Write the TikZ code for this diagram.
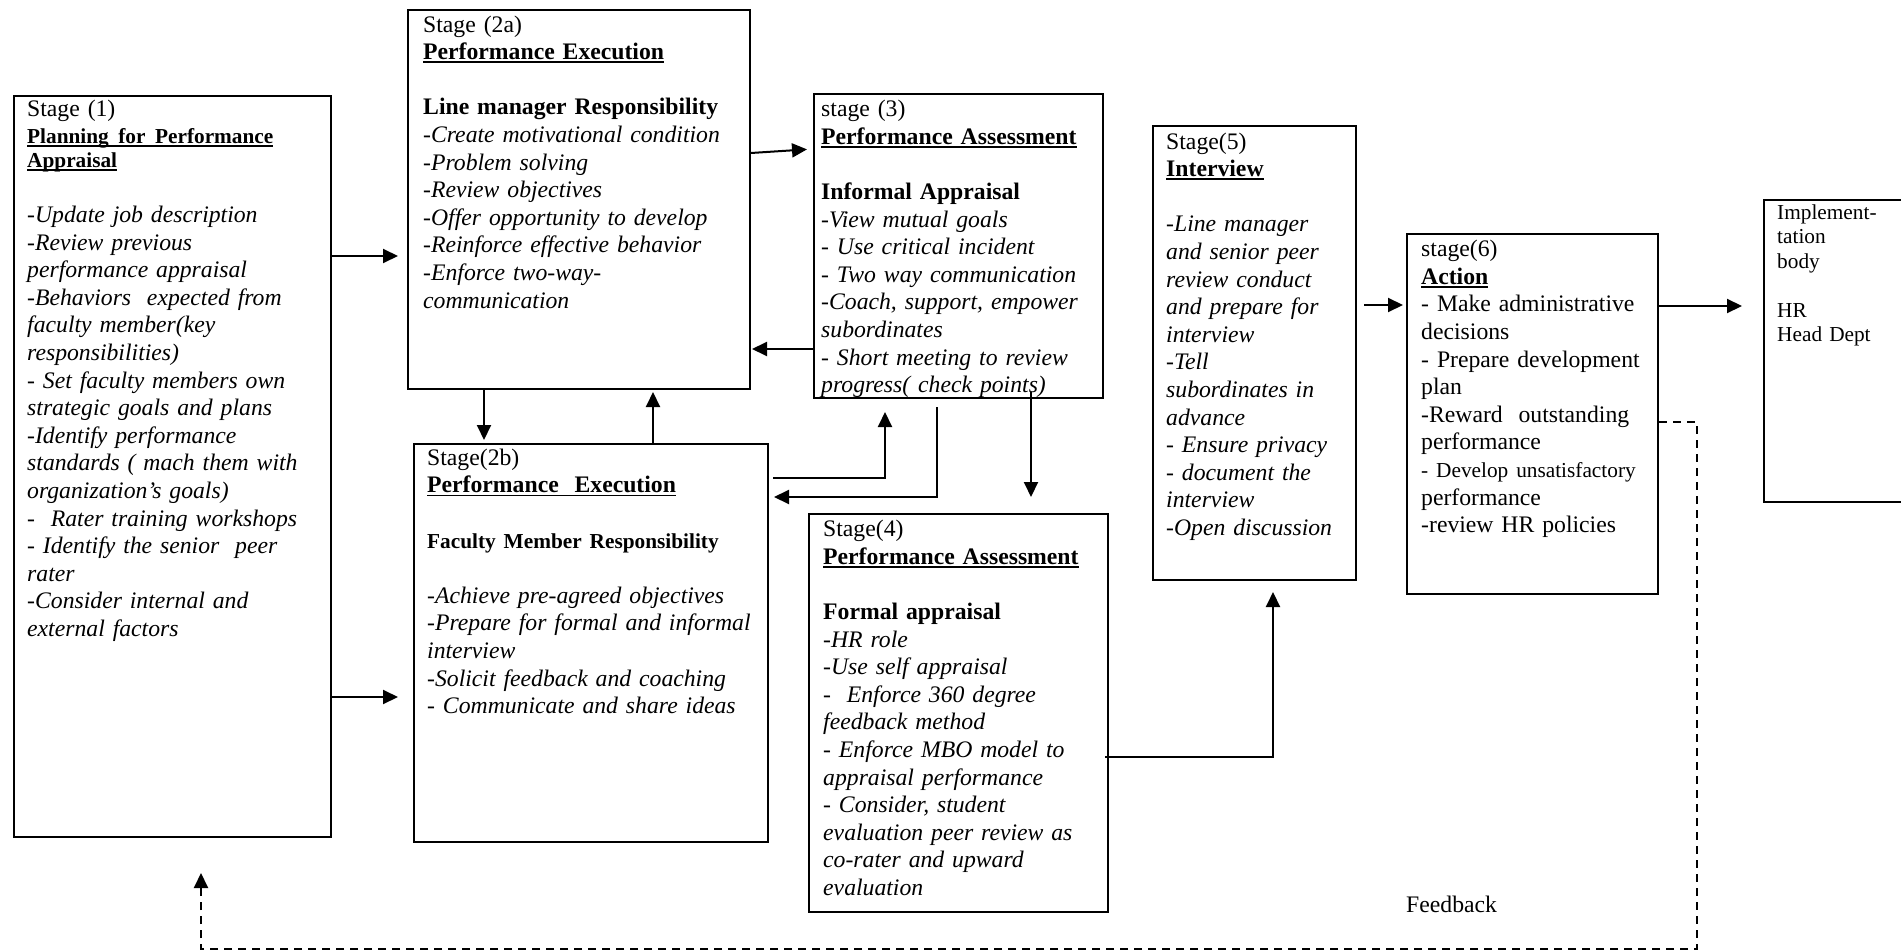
\documentclass[tikz,border=0pt]{standalone}
\usepackage{fontspec}
\setmainfont{Liberation Serif}
\usetikzlibrary{arrows.meta,calc}
\setlength{\parindent}{0pt}
\newcommand{\fb}{\rule{0pt}{20pt}}
\newcommand{\myul}[1]{\leavevmode\setbox0\hbox{#1}\rlap{\rule[-3.5pt]{\wd0}{1.8pt}}\box0}
\newcommand{\smallsz}{\fontsize{21.3}{24.5}\selectfont}
\tikzset{
  box/.style={draw, line width=2pt, anchor=north west, inner sep=0pt},
  txt/.style={anchor=north west, inner sep=0pt, text width=420pt, align=left, font=\fontsize{23.7}{27.6}\selectfont},
  smtxt/.style={txt, font=\smallsz},
  arr/.style={line width=2pt, -{Triangle[length=15pt,width=14pt]}},
  dsh/.style={line width=2pt, dash pattern=on 8pt off 6pt},
}
\begin{document}
\begin{tikzpicture}[x=1pt,y=-1pt]
\fill[white] (0,0) rectangle (1901,952);
\clip (0,0) rectangle (1901,952);
% boxes
\node[box, minimum width=317pt, minimum height=741pt] (b1) at (13,95) {};
\node[box, minimum width=342pt, minimum height=379pt] (b2a) at (407,9) {};
\node[box, minimum width=354pt, minimum height=398pt] (b2b) at (413,443) {};
\node[box, minimum width=289pt, minimum height=304pt] (b3) at (813,93) {};
\node[box, minimum width=299pt, minimum height=398pt] (b4) at (808,513) {};
\node[box, minimum width=203pt, minimum height=454pt] (b5) at (1152,125) {};
\node[box, minimum width=251pt, minimum height=360pt] (b6) at (1406,233) {};
\node[box, minimum width=170pt, minimum height=302pt] (bimpl) at (1763,199) {};
% texts
\node[txt] (t1) at (27,96) {\fb Stage (1)\\
{\smallsz\bfseries\myul{Planning\hspace{9.5pt}for\hspace{9.5pt}Performance}}\\[-4pt]
{\smallsz\bfseries\myul{Appraisal}}\\
~\\
\itshape -Update job description\\
-Review previous\\
performance appraisal\\
-Behaviors\ \ expected from\\
faculty member(key\\
responsibilities)\\
- Set faculty members own\\
strategic goals and plans\\
-Identify performance\\
standards ( mach them with\\
organization's goals)\\
-\ \ Rater training workshops\\
- Identify the senior\ \ peer\\
rater\\
-Consider internal and\\
external factors};
\node[txt] (t2a) at (423,12) {\fb Stage (2a)\\
\textbf{\myul{Performance Execution}}\\
~\\
\textbf{Line manager Responsibility}\\
\itshape -Create motivational condition\\
-Problem solving\\
-Review objectives\\
-Offer opportunity to develop\\
-Reinforce effective behavior\\
-Enforce two-way-\\
communication};
\node[txt] (t2b) at (427,445) {\fb Stage(2b)\\
\textbf{\myul{Performance\ \ Execution}}\\
~\\
{\smallsz\bfseries Faculty Member Responsibility}\\
~\\
\itshape -Achieve pre-agreed objectives\\
-Prepare for formal and informal\\
interview\\
-Solicit feedback and coaching\\
- Communicate and share ideas};
\node[txt] (t3) at (821,96.5) {\fb stage (3)\\
\textbf{\myul{Performance Assessment}}\\
~\\
\textbf{Informal Appraisal}\\
\itshape -View mutual goals\\
- Use critical incident\\
- Two way communication\\
-Coach, support, empower\\
subordinates\\
- Short meeting to review\\
progress( check points)};
\node[txt] (t4) at (823,516.5) {\fb Stage(4)\\
\textbf{\myul{Performance Assessment}}\\
~\\
\textbf{Formal appraisal}\\
\itshape -HR role\\
-Use self appraisal\\
-\ \ Enforce 360 degree\\
feedback method\\
- Enforce MBO model to\\
appraisal performance\\
- Consider, student\\
evaluation peer review as\\
co-rater and upward\\
evaluation};
\node[txt] (t5) at (1166,129) {\fb Stage(5)\\
\textbf{\myul{Interview}}\\
~\\
\itshape -Line manager\\
and senior peer\\
review conduct\\
and prepare for\\
interview\\
-Tell\\
subordinates in\\
advance\\
- Ensure privacy\\
- document the\\
interview\\
-Open discussion};
\node[txt] (t6) at (1421,236.5) {\fb stage(6)\\
\textbf{\myul{Action}}\\
- Make administrative\\
decisions\\
- Prepare development\\
plan\\
-Reward\ \ outstanding\\
performance\\
{\smallsz - Develop unsatisfactory}\\
performance\\
-review HR policies};
\node[smtxt] (timpl) at (1777,199) {\fb Implement-\\
tation\\
body\\
~\\
HR\\
Head Dept};
\node[anchor=base west, inner sep=0pt, font=\fontsize{23.7}{27.6}\selectfont] (fbl) at (1406,912) {Feedback};
% connectors
\draw[arr, shorten >=9pt] (b1.east |- 0,256) -- (b2a.west |- 0,256);
\draw[arr, shorten >=15pt] (b1.east |- 0,697) -- (b2b.west |- 0,697);
\draw[arr, shorten >=6pt] (b2a.east |- 0,153) -- (b3.west |- 0,149);
\draw[arr, shorten >=1pt] (b3.west |- 0,349) -- (b2a.east |- 0,349);
\draw[arr, shorten >=3pt] (b2a.south -| 484,0) -- (b2b.north -| 484,0);
\draw[arr, shorten >=2pt] (b2b.north -| 653,0) -- (b2a.south -| 653,0);
\draw[arr, shorten <=4pt, shorten >=13pt] (b2b.east |- 0,478) -| (b3.south -| 885,0);
\draw[arr, shorten <=8pt, shorten >=5pt] (b3.south -| 937,0) |- (b2b.east |- 0,497);
\draw[arr, shorten <=-7pt, shorten >=16pt] (b3.south -| 1031,0) -- (b4.north -| 1031,0);
\draw[arr, shorten <=-4pt, shorten >=11pt] (b4.east |- 0,757) -| (b5.south -| 1273,0);
\draw[arr, shorten <=7pt, shorten >=3pt] (b5.east |- 0,305) -- (b6.west |- 0,305);
\draw[arr, shorten >=21pt] (b6.east |- 0,306) -- (bimpl.west |- 0,306);
\coordinate (fbend) at (201,873);
\draw[dsh, -{Triangle[length=15pt,width=14pt]}] (b6.east |- 0,422) -- (1697,422) -- (1697,949) -- (201,949) -- (fbend);
\end{tikzpicture}
\end{document}
